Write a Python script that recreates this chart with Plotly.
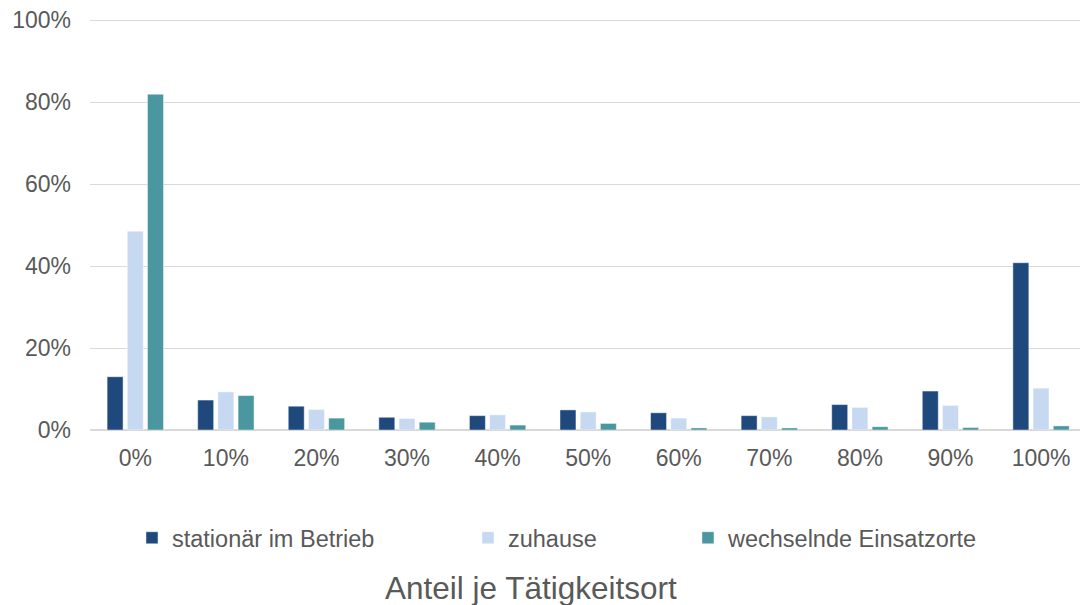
import plotly.graph_objects as go

categories = ["0%", "10%", "20%", "30%", "40%", "50%", "60%", "70%", "80%", "90%", "100%"]
stationaer = [13.0, 7.3, 5.8, 3.1, 3.5, 4.9, 4.2, 3.5, 6.2, 9.5, 40.8]
zuhause = [48.5, 9.3, 5.0, 2.8, 3.7, 4.4, 2.9, 3.2, 5.5, 6.0, 10.2]
wechselnd = [81.9, 8.4, 2.9, 1.9, 1.2, 1.6, 0.5, 0.5, 0.8, 0.6, 1.0]
series_names = ["stationär im Betrieb", "zuhause", "wechselnde Einsatzorte"]
y_ticks = [0, 20, 40, 60, 80, 100]
y_tick_labels = ["0%", "20%", "40%", "60%", "80%", "100%"]
x_title = "Anteil je Tätigkeitsort"

colors = ["#1F497D", "#C6D9F1", "#4A979F"]
FONT = "Liberation Sans, Arial, sans-serif"
GREY = "#595959"

fig = go.Figure()
legends = ["legend", "legend2", "legend3"]
for name, vals, col, lg in zip(series_names, [stationaer, zuhause, wechselnd], colors, legends):
    fig.add_trace(go.Bar(
        x=categories, y=vals, name=name,
        marker=dict(color=col, line=dict(color="rgba(255,255,255,0.55)", width=0.8)),
        legend=lg,
    ))

# plot area: y=0 at 430px, 4.1 px per unit; top extended slightly so the 100% gridline is drawn
plot_h = 412.05  # 100.5 units * 4.1
top = 430 - plot_h

def ypaper(px):
    return (430 - px) / plot_h

leg_common = dict(orientation="h", yanchor="middle", y=ypaper(538), xanchor="left",
                  font=dict(family=FONT, size=23.5, color=GREY),
                  bgcolor="rgba(0,0,0,0)", borderwidth=0)

fig.update_layout(
    width=1080, height=605,
    margin=dict(l=90, r=0, t=top, b=175, autoexpand=False),
    paper_bgcolor="white", plot_bgcolor="white",
    barmode="group", bargap=0.331, bargroupgap=0.21,
    font=dict(family=FONT, color=GREY),
    showlegend=True,
    legend=dict(x=0.0424, **leg_common),
    legend2=dict(x=0.3818, **leg_common),
    legend3=dict(x=0.604, **leg_common),
    xaxis=dict(
        type="category", range=[-0.5, 10.43],
        showgrid=False, showline=False, ticks="",
        tickfont=dict(family=FONT, size=23, color=GREY),
        ticklabelstandoff=12,
    ),
    yaxis=dict(
        range=[0, 100.5], tickvals=y_ticks, ticktext=y_tick_labels,
        showgrid=True, gridcolor="#D9D9D9", gridwidth=1.3,
        zeroline=True, zerolinecolor="#D9D9D9", zerolinewidth=1.6,
        showline=False, ticks="",
        tickfont=dict(family=FONT, size=23, color=GREY),
        ticklabelstandoff=18,
    ),
    annotations=[dict(
        text=x_title, xref="paper", yref="paper", x=0.4455, y=ypaper(588),
        xanchor="center", yanchor="middle", showarrow=False,
        font=dict(family=FONT, size=31.5, color=GREY),
    )],
)

fig.write_html("out.html", config={"displayModeBar": False},
               post_script="document.body.style.margin='0';document.body.style.overflow='hidden';")
